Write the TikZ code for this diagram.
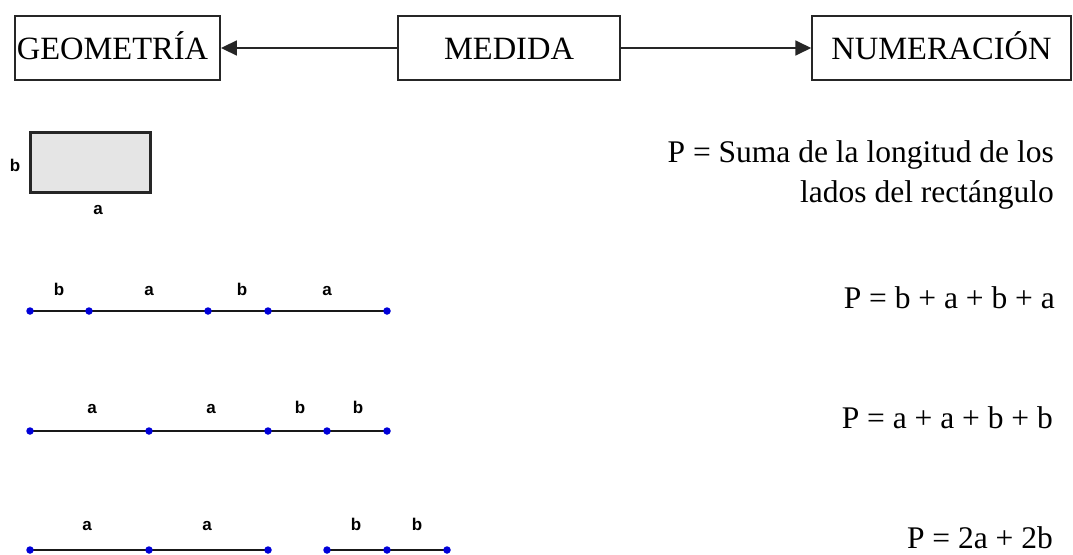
\documentclass[tikz,border=0pt]{standalone}
\usepackage{fontspec}
\setmainfont{Liberation Serif}
\newfontfamily\labfont{Liberation Sans}
\usetikzlibrary{arrows.meta}
\begin{document}
\begin{tikzpicture}[x=1pt,y=-1pt,
  topbox/.style={draw=black!85,line width=1.5pt,minimum height=64pt,inner sep=0pt,text height=26pt,text depth=4pt,font=\fontsize{32.5}{38}\selectfont},
  conn/.style={draw=black!85,line width=1.8pt,-{Triangle[length=16pt,width=15pt]}},
  seg/.style={line width=2.6pt,black!90},
  dot/.style={circle,fill=blue!85!black,inner sep=0pt,minimum size=7.5pt},
  lab/.style={font=\labfont\bfseries\fontsize{17}{20}\selectfont,anchor=base,inner sep=0pt},
  eq/.style={font=\fontsize{31.5}{36}\selectfont,anchor=base east,inner sep=0pt}]
\useasboundingbox (0,0) rectangle (1073,554);
% top boxes
\node[topbox,minimum width=205pt] (geo) at (117.5,48) {\hspace*{2pt}GEOMETRÍA\hspace*{12pt}};
\node[topbox,minimum width=222pt] (med) at (509,48) {MEDIDA};
\node[topbox,minimum width=259pt] (num) at (941.5,48) {NUMERACIÓN};
\draw[conn] (med.west) -- (geo.east);
\draw[conn] (med.east) -- (num.west);
% rectangle
\node[draw=black!85,fill=black!10,line width=3pt,minimum width=120pt,minimum height=60pt,inner sep=0pt] (rect) at (90,162) {};
\node[lab] (rb) at (15,171) {b};
\node[lab] (ra) at (98,214) {a};
% line 1
\foreach \n/\x in {1/30,2/89,3/208,4/268,5/387} \coordinate (p\n) at (\x,311);
\draw[seg] (p1) -- (p2) -- (p3) -- (p4) -- (p5);
\foreach \n in {1,...,5} \node[dot] (dp\n) at (p\n) {};
\node[lab] (l1a) at (59,295) {b};
\node[lab] (l1b) at (149,295) {a};
\node[lab] (l1c) at (242,295) {b};
\node[lab] (l1d) at (327,295) {a};
% line 2
\foreach \n/\x in {1/30,2/149,3/268,4/327,5/387} \coordinate (q\n) at (\x,431);
\draw[seg] (q1) -- (q2) -- (q3) -- (q4) -- (q5);
\foreach \n in {1,...,5} \node[dot] (dq\n) at (q\n) {};
\node[lab] (l2a) at (92,413) {a};
\node[lab] (l2b) at (211,413) {a};
\node[lab] (l2c) at (300,413) {b};
\node[lab] (l2d) at (358,413) {b};
% line 3
\foreach \n/\x in {1/30,2/149,3/268,4/327,5/387,6/447} \coordinate (r\n) at (\x,550);
\draw[seg] (r1) -- (r2) -- (r3);
\draw[seg] (r4) -- (r5) -- (r6);
\foreach \n in {1,...,6} \node[dot] (dr\n) at (r\n) {};
\node[lab] (l3a) at (87,530) {a};
\node[lab] (l3b) at (207,530) {a};
\node[lab] (l3c) at (356,530) {b};
\node[lab] (l3d) at (417,530) {b};
% equations
\node[eq] (e1) at (1054,162) {P = Suma de la longitud de los};
\node[eq] (e1b) at (1054,202) {lados del rectángulo};
\node[eq] (e2) at (1055,308) {P = b + a + b + a};
\node[eq] (e3) at (1053,428) {P = a + a + b + b};
\node[eq] (e4) at (1053,548) {P = 2a + 2b};
\end{tikzpicture}
\end{document}
